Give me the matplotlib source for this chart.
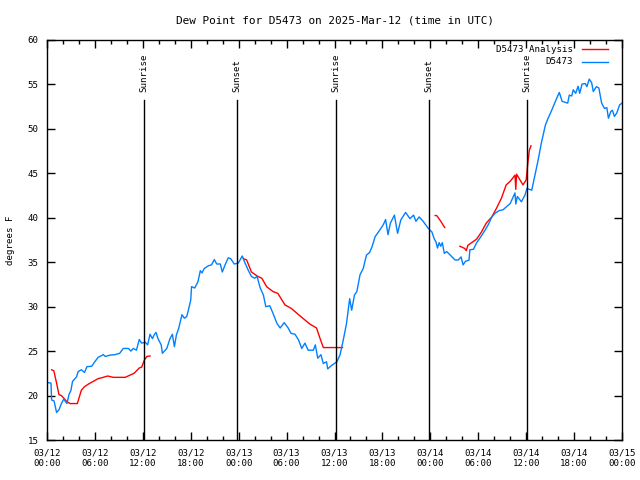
import datetime as dt
import numpy as np
import matplotlib
matplotlib.use('Agg')
import matplotlib.pyplot as plt
import matplotlib.dates as mdates
from matplotlib.lines import Line2D

plt.rcParams['font.family'] = 'DejaVu Sans Mono'
plt.rcParams['font.size'] = 6.6

start = dt.datetime(2025, 3, 12, 0, 0)

# hours since 03/12 00:00 UTC, D5473 dew point (F)
station_hours = [0.17, 0.5, 0.58, 0.88, 1.2, 1.5, 1.8, 2.1, 2.5, 2.75, 3.0, 3.2, 3.7, 3.9, 4.3,
                 4.7, 5.0, 5.6, 5.9, 6.4, 7.05, 7.3, 7.9, 8.5, 9.1, 9.55, 10.2, 10.5, 10.8,
                 11.2, 11.55, 11.85, 12.3, 12.6, 12.9, 13.2, 13.4, 13.65, 13.9, 14.3, 14.45,
                 15.0, 15.4, 15.7, 15.95, 16.2, 16.5, 16.9, 17.2, 17.5, 17.7, 18.0, 18.1,
                 18.5, 18.9, 19.2, 19.4, 19.7, 20.2, 20.6, 20.95, 21.25, 21.7, 21.95, 22.3,
                 22.7, 23.0, 23.45, 23.95, 24.45, 24.8, 25.2, 25.6, 26.0, 26.3, 26.7, 27.1,
                 27.4, 27.9, 28.3, 28.8, 29.2, 29.7, 30.2, 30.55, 31.05, 31.5, 31.9, 32.3,
                 32.7, 33.35, 33.6, 33.9, 34.3, 34.6, 35.0, 35.15, 35.65, 36.3, 36.7, 37.1,
                 37.5, 37.9, 38.15, 38.5, 38.8, 39.2, 39.6, 40.0, 40.4, 40.7, 41.1, 41.5,
                 42.1, 42.4, 42.7, 43.0, 43.5, 43.9, 44.3, 44.9, 45.45, 45.9, 46.2, 46.6,
                 47.1, 47.75, 48.2, 48.5, 48.7, 48.9, 49.1, 49.3, 49.5, 49.75, 50.05, 50.5,
                 51.1, 51.5, 51.85, 52.1, 52.4, 52.85, 52.95, 53.4, 53.8, 54.2, 54.85, 55.3,
                 55.7, 56.1, 56.6, 57.1, 57.55, 58.0, 58.3, 58.6, 58.7, 58.9, 59.4, 59.85,
                 60.1, 60.7, 61.1, 61.5, 61.9, 62.4, 62.7, 63.2, 63.8, 64.15, 64.5, 65.2,
                 65.4, 65.7, 65.9, 66.2, 66.5, 66.7, 67.0, 67.4, 67.6, 67.9, 68.2, 68.4,
                 68.8, 69.1, 69.45, 69.8, 70.1, 70.3, 70.6, 70.8, 71.05, 71.35, 71.7, 72.0]
station_dew = [21.45, 21.4, 19.5, 19.4, 18.1, 18.4, 19.1, 19.6, 19.1, 20.1, 20.6, 21.6, 22.1,
               22.7, 22.9, 22.6, 23.25, 23.3, 23.7, 24.3, 24.6, 24.4, 24.55, 24.6, 24.75,
               25.3, 25.3, 25.0, 25.3, 25.1, 26.3, 25.9, 26.0, 25.7, 26.9, 26.4, 26.8, 27.1,
               26.4, 25.7, 24.75, 25.3, 26.4, 26.9, 25.5, 26.8, 27.6, 29.1, 28.7, 28.9, 29.6,
               30.75, 32.25, 32.1, 32.8, 34.05, 33.8, 34.3, 34.6, 34.7, 35.3, 34.8, 34.8,
               33.9, 34.7, 35.5, 35.4, 34.8, 34.9, 35.7, 34.9, 34.1, 33.4, 33.2, 33.4, 32.1,
               31.3, 30.0, 30.1, 29.25, 28.1, 27.6, 28.2, 27.6, 27.0, 26.9, 26.25, 25.3,
               25.9, 25.1, 25.1, 25.7, 24.2, 24.6, 23.6, 23.8, 23.0, 23.4, 23.8, 24.6, 26.25,
               28.1, 30.9, 29.6, 31.3, 31.7, 33.6, 34.3, 35.8, 36.1, 36.75, 37.9, 38.4,
               39.2, 39.8, 38.1, 39.4, 40.3, 38.25, 39.75, 40.6, 39.9, 40.3, 39.6, 40.1,
               39.6, 38.8, 38.4, 37.6, 37.3, 36.6, 37.2, 36.8, 37.2, 36.0, 36.2, 35.8,
               35.25, 35.25, 35.6, 34.7, 35.1, 35.25, 36.4, 36.45, 37.2, 37.7, 38.6, 39.3,
               40.1, 40.5, 40.8, 40.9, 41.25, 41.6, 42.2, 42.8, 41.55, 42.4, 41.8, 42.55,
               43.3, 43.1, 44.8, 46.5, 48.4, 50.4, 51.1, 52.1, 53.4, 54.1, 53.1, 52.9,
               53.8, 53.7, 54.4, 54.0, 54.8, 54.0, 55.05, 55.1, 54.75, 55.6, 55.2, 54.2,
               54.75, 54.6, 52.9, 52.3, 52.4, 51.2, 51.95, 52.1, 51.4, 51.8, 52.7, 52.9]

# D5473 analysis, nan marks the gaps
analysis_hours = [0.58, 0.85, 1.2, 1.5, 1.8, 2.5, 2.9, 3.8, 4.3, 4.7, 5.2, 5.8, 6.4, 7.05, 7.6,
                  8.3, 9.8, 10.4, 10.9, 11.55, 11.85, 12.2, 12.5, 12.9, 13.0,
                  24.6, 25.0, 25.6, 26.4, 26.9, 27.5, 28.3, 28.9, 29.8, 30.6, 31.5, 32.3, 32.9,
                  33.75, 34.2, 34.6, 37.0, 37.1,
                  48.6, 48.8, 49.2, 49.8, 49.9,
                  51.7, 52.3, 52.5, 52.7, 53.8, 54.4, 55.0, 55.7, 56.3, 56.9, 57.5, 58.0,
                  58.6, 58.7, 58.8, 59.6, 60.0, 60.2, 60.4, 60.6]
analysis_dew = [22.9, 22.8, 21.4, 20.1, 20.0, 19.3, 19.1, 19.1, 20.6, 21.0, 21.3, 21.6, 21.9,
                22.05, 22.2, 22.05, 22.05, 22.3, 22.5, 23.1, 23.2, 24.0, 24.4, 24.45, np.nan,
                35.4, 35.25, 33.9, 33.4, 33.2, 32.25, 31.7, 31.5, 30.2, 29.8, 29.1, 28.5,
                28.05, 27.6, 26.4, 25.4, 25.4, np.nan,
                40.25, 40.25, 39.75, 38.9, np.nan,
                36.8, 36.55, 36.3, 36.9, 37.6, 38.4, 39.4, 40.1, 41.1, 42.2, 43.7, 44.1,
                44.8, 43.2, 44.9, 43.7, 44.25, 46.1, 47.6, 48.1]

event_hours = [12.14, 23.78, 36.17, 47.8, 60.07]
event_names = ['Sunrise', 'Sunset', 'Sunrise', 'Sunset', 'Sunrise']


def to_dates(hours):
    return [start + dt.timedelta(hours=h) for h in hours]


fig = plt.figure(figsize=(6.4, 4.8), dpi=100)
ax = fig.add_axes([47 / 640, 40 / 480, 575 / 640, 400 / 480])

ax.plot(to_dates(analysis_hours), analysis_dew, color='#ff0000', lw=1)
ax.plot(to_dates(station_hours), station_dew, color='#0080ff', lw=1)

for h, name in zip(event_hours, event_names):
    t = start + dt.timedelta(hours=h)
    ax.plot([t, t], [15, 53.25], color='black', lw=1)
    ax.text(t, 54.1, name, rotation=90, ha='center', va='bottom')

ax.set_xlim(start, start + dt.timedelta(hours=72))
ax.set_ylim(15, 60)
ax.set_yticks(range(15, 61, 5))
ax.xaxis.set_major_locator(mdates.HourLocator(byhour=[0, 6, 12, 18]))
ax.xaxis.set_minor_locator(mdates.HourLocator(byhour=range(0, 24, 2)))
ax.xaxis.set_major_formatter(mdates.DateFormatter('%m/%d\n%H:%M'))
ax.tick_params(which='both', direction='in', top=True, right=True, width=1)
ax.tick_params(which='major', length=6, pad=6)
ax.tick_params(which='minor', length=3)
for s in ax.spines.values():
    s.set_linewidth(1)

ax.set_ylabel('degrees F', labelpad=9)
ax.set_title('Dew Point for D5473 on 2025-Mar-12 (time in UTC)', pad=12)

# gnuplot style key: text right aligned, sample line after it
ax.text(0.915, 0.977, 'D5473 Analysis', transform=ax.transAxes, ha='right', va='center')
ax.text(0.915, 0.945, 'D5473', transform=ax.transAxes, ha='right', va='center')
ax.add_line(Line2D([0.93, 0.975], [0.977, 0.977], transform=ax.transAxes, color='#ff0000', lw=1))
ax.add_line(Line2D([0.93, 0.975], [0.945, 0.945], transform=ax.transAxes, color='#0080ff', lw=1))

fig.savefig('out.png', dpi=100)
